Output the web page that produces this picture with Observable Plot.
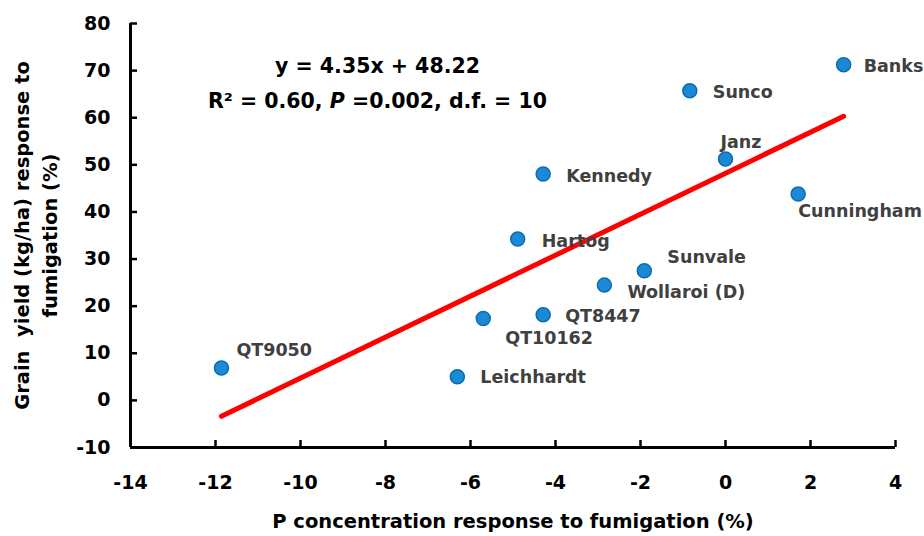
<!DOCTYPE html>
<html>
<head>
<meta charset="utf-8">
<script src="https://cdn.jsdelivr.net/npm/d3@7"></script>
<script src="https://cdn.jsdelivr.net/npm/@observablehq/plot@0.6"></script>
<style>
  body { margin: 0; background: #fff; }
  svg text { white-space: pre; }
</style>
</head>
<body>
<div id="chart"></div>
<script>
// ---- data ----
const cultivars = ["QT9050", "Leichhardt", "QT10162", "QT8447", "Hartog", "Kennedy",
                   "Wollaroi (D)", "Sunvale", "Sunco", "Janz", "Cunningham", "Banks"];
const pConcResponse = [-11.86, -6.31, -5.70, -4.29, -4.89, -4.29, -2.85, -1.91, -0.84, 0.00, 1.71, 2.78];
const yieldResponse = [6.86, 5.01, 17.38, 18.17, 34.24, 48.04, 24.47, 27.51, 65.72, 51.22, 43.79, 71.24];
const xTicks = [-14, -12, -10, -8, -6, -4, -2, 0, 2, 4];
const yTicks = [-10, 0, 10, 20, 30, 40, 50, 60, 70, 80];
const xDomain = [-14, 4];
const yDomain = [-10, 80];
const slope = 4.35;
const intercept = 48.22;
const equationLines = ["y = 4.35x + 48.22", "R\u00B2 = 0.60, P =0.002, d.f. = 10"];
const xTitle = "P concentration response to fumigation (%)";
const yTitleLines = ["Grain  yield (kg/ha) response to", "fumigation (%)"];

// ---- layout ----
const W = 924, H = 536, mL = 130, mR = 29, mT = 23, mB = 89, tickLen = 7;
const labelOffsets = {
  "QT9050": [15, -18], "Leichhardt": [23, 1], "QT10162": [22, 20], "QT8447": [22, 2],
  "Hartog": [24, 2], "Kennedy": [23, 2], "Wollaroi (D)": [23, 7], "Sunvale": [23, -13],
  "Sunco": [23, 2], "Janz": [-5, -17], "Cunningham": [0, 17], "Banks": [20, 2]
};

const points = cultivars.map((name, i) => ({name, x: pConcResponse[i], y: yieldResponse[i]}));
const fit = [d3.min(pConcResponse), d3.max(pConcResponse)].map(x => ({x, y: slope * x + intercept}));

// tick length converted from pixels into data units of each scale
const xTickSpan = tickLen * (xDomain[1] - xDomain[0]) / (W - mL - mR);
const yTickSpan = tickLen * (yDomain[1] - yDomain[0]) / (H - mT - mB);

const labelMarks = points.map(p => Plot.text([p], {
  x: "x", y: "y", text: "name",
  dx: labelOffsets[p.name][0], dy: labelOffsets[p.name][1],
  textAnchor: "start", lineAnchor: "middle",
  fontSize: 17.5, fontWeight: "bold", fill: "#404040"
}));

const plot = Plot.plot({
  width: W, height: H,
  marginLeft: mL, marginRight: mR, marginTop: mT, marginBottom: mB,
  style: {fontFamily: "'DejaVu Sans', sans-serif", background: "white", overflow: "visible"},
  x: {domain: xDomain},
  y: {domain: yDomain},
  marks: [
    Plot.axisX(xTicks, {tickSize: 0, tickPadding: 28, fontSize: 19, fontWeight: "bold", fill: "black", label: null, tickFormat: d => String(d)}),
    Plot.axisY(yTicks, {tickSize: 0, tickPadding: 20, fontSize: 19, fontWeight: "bold", fill: "black", label: null, tickFormat: d => String(d)}),
    // inward tick marks
    Plot.ruleX(xTicks, {x: d => d, y1: yDomain[0], y2: yDomain[0] + yTickSpan, stroke: "black", strokeWidth: 2.5}),
    Plot.ruleY(yTicks, {y: d => d, x1: xDomain[0], x2: xDomain[0] + xTickSpan, stroke: "black", strokeWidth: 2.5}),
    Plot.ruleX([xDomain[0]], {strokeWidth: 3, stroke: "black"}),
    Plot.ruleY([yDomain[0]], {strokeWidth: 3, stroke: "black"}),
    Plot.line(fit, {x: "x", y: "y", stroke: "#ff0000", strokeWidth: 5, strokeLinecap: "round"}),
    Plot.dot(points, {x: "x", y: "y", r: 7, fill: "#1a8ad6", stroke: "#0c6cb2", strokeWidth: 1.5}),
    ...labelMarks,
    Plot.text([equationLines[0]], {frameAnchor: "top-left", dx: 247, dy: 43, text: d => d,
      textAnchor: "middle", lineAnchor: "middle", fontSize: 20.5, fontWeight: "bold", fill: "black"}),
    Plot.text([equationLines[1]], {frameAnchor: "top-left", dx: 247, dy: 78, text: d => d,
      textAnchor: "middle", lineAnchor: "middle", fontSize: 20.5, fontWeight: "bold", fill: "black"}),
    Plot.text([xTitle], {frameAnchor: "bottom", dy: 74, text: d => d,
      textAnchor: "middle", lineAnchor: "middle", fontSize: 19.5, fontWeight: "bold", fill: "black"}),
    Plot.text([yTitleLines[0]], {frameAnchor: "left", dx: -108, rotate: -90, text: d => d,
      textAnchor: "middle", lineAnchor: "middle", fontSize: 19.5, fontWeight: "bold", fill: "black"}),
    Plot.text([yTitleLines[1]], {frameAnchor: "left", dx: -80, rotate: -90, text: d => d,
      textAnchor: "middle", lineAnchor: "middle", fontSize: 19.5, fontWeight: "bold", fill: "black"})
  ]
});

document.getElementById("chart").appendChild(plot);

// italic P in the statistics line
d3.select(plot).selectAll("text").each(function() {
  const t = this.textContent;
  if (t === equationLines[1]) {
    const idx = t.indexOf("P =");
    const sel = d3.select(this);
    sel.text(null);
    sel.append("tspan").text(t.slice(0, idx));
    sel.append("tspan").attr("font-style", "italic").text("P");
    sel.append("tspan").text(t.slice(idx + 1));
  }
});
</script>
</body>
</html>
